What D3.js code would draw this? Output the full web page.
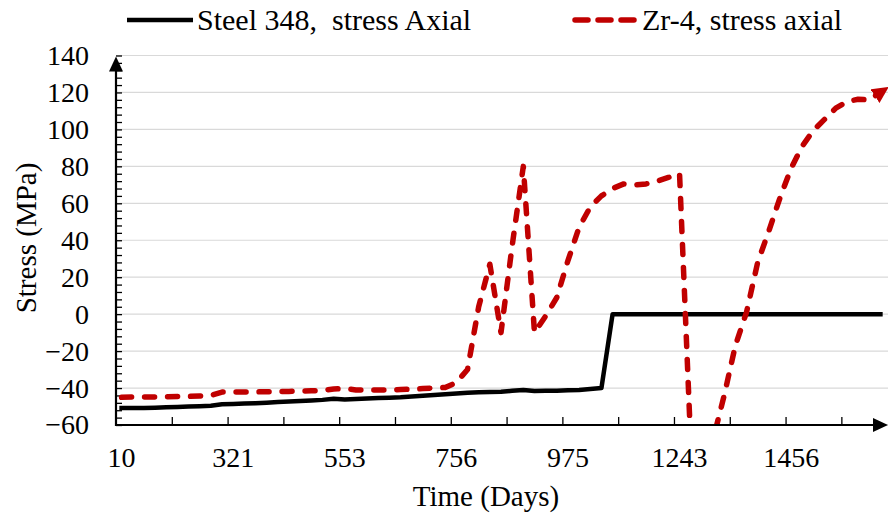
<!DOCTYPE html>
<html>
<head>
<meta charset="utf-8">
<script src="https://cdn.jsdelivr.net/npm/d3@7"></script>
<style>
  html, body { margin: 0; padding: 0; background: #fff; }
  svg { display: block; }
  text { font-family: "Liberation Serif", "Times New Roman", serif; fill: #000; }
</style>
</head>
<body>
<svg id="chart" width="888" height="515"></svg>
<script>
// ---- data ----
const seriesNames = ["Steel 348,  stress Axial", "Zr-4, stress axial"];
const steel348 = [
  -50.8, -50.8, -50.8, -50.6, -50.4, -50.2, -50, -49.8, -49.6, -48.8,
  -48.6, -48.4, -48.2, -47.9, -47.6, -47.3, -47, -46.7, -46.4, -45.8,
  -46.2, -45.9, -45.6, -45.4, -45.2, -45, -44.6, -44.2, -43.8, -43.4,
  -43, -42.6, -42.3, -42.1, -42, -41.5, -41, -41.6, -41.5, -41.4,
  -41.2, -41, -40.5, -40, 0, 0, 0, 0, 0, 0,
  0, 0, 0, 0, 0, 0, 0, 0, 0, 0,
  0, 0, 0, 0, 0, 0, 0, 0, 0
];
const zr4 = [
  -45, -44.8, -44.8, -44.8, -44.7, -44.6, -44.5, -44.3, -44, -42.2,
  -42.2, -42.1, -42.1, -42, -41.9, -41.8, -41.7, -41.5, -41.3, -40.5,
  -40.3, -41, -41.1, -41.1, -41, -40.8, -40.6, -40.3, -39.9, -39.7,
  -37, -30, 4, 27, -10, 37, 80, -10, -1, 9,
  29, 47, 58, 64, 68, 70.5, 70, 70.5, 72, 74,
  76, -70, -59, -68, -44, -17, 1, 28, 45, 63,
  79, 91, 99.5, 105.5, 111.5, 115, 116.3, 116, 120
];
const categories = d3.range(zr4.length);          // category slots (days, unevenly spaced)
const timeLabels = ["10", "321", "553", "756", "975", "1243", "1456"]; // every 10th category
const labelEvery = 10;
const tickEvery = 5;
const yMin = -60, yMax = 140, yMajor = 20, yMinor = 4;

// ---- layout ----
const svg = d3.select("#chart");
const L = 116, R = 886, T = 55.5, B = 425;
const FONT = 28, TITLE = 29, LEG = 30;

const x = d3.scaleBand().domain(categories).range([L, R]).paddingInner(0).paddingOuter(0);
const xEdge = d3.scaleLinear().domain([0, categories.length]).range([L, R]);
const y = d3.scaleLinear().domain([yMin, yMax]).range([B, T]);
const cx = i => x(i) + x.bandwidth() / 2;

// defs
const defs = svg.append("defs");
defs.append("clipPath").attr("id", "plotclip")
  .append("rect").attr("x", L).attr("y", T - 10).attr("width", 888 - L).attr("height", B - T + 10);
defs.append("marker").attr("id", "redarrow")
  .attr("viewBox", "0 0 10 10").attr("refX", 4).attr("refY", 5)
  .attr("markerWidth", 3).attr("markerHeight", 3)
  .attr("markerUnits", "strokeWidth").attr("orient", "auto")
  .append("path").attr("d", "M0,0 L10,5 L0,10 Z").attr("fill", "#c00000");

// gridlines
const yMajorTicks = d3.range(yMin, yMax + 1, yMajor);
svg.append("g").selectAll("line").data(yMajorTicks).join("line")
  .attr("x1", L).attr("x2", 888)
  .attr("y1", d => y(d)).attr("y2", d => y(d))
  .attr("stroke", "#d9d9d9").attr("stroke-width", 1.2);

// y minor/major tick marks (inside)
const yTickG = svg.append("g").attr("transform", `translate(${L},0)`)
  .call(d3.axisRight(y).tickValues(d3.range(yMin, yMax + 0.1, yMinor)).tickSize(6).tickFormat(""));
yTickG.select(".domain").remove();
yTickG.selectAll(".tick line").attr("stroke", "#000").attr("stroke-width", 1.3);

// y labels
const yLab = svg.append("g").attr("transform", `translate(${L},0)`)
  .call(d3.axisLeft(y).tickValues(yMajorTicks).tickSize(0).tickPadding(27));
yLab.select(".domain").remove();
yLab.selectAll("text").style("font-size", FONT + "px")
  .style("font-family", "'Liberation Serif','Times New Roman',serif");

// x tick marks (inside, at category boundaries)
const xTickG = svg.append("g").attr("transform", `translate(0,${B})`)
  .call(d3.axisTop(xEdge).tickValues(d3.range(tickEvery, categories.length, tickEvery)).tickSize(8).tickFormat(""));
xTickG.select(".domain").remove();
xTickG.selectAll(".tick line").attr("stroke", "#000").attr("stroke-width", 1.3);

// x labels (category centres)
const xLab = svg.append("g").attr("transform", `translate(0,${B})`)
  .call(d3.axisBottom(x).tickValues(categories.filter(i => i % labelEvery === 0))
    .tickSize(0).tickPadding(22).tickFormat(i => timeLabels[i / labelEvery]));
xLab.select(".domain").remove();
xLab.selectAll("text").style("font-size", FONT + "px")
  .style("font-family", "'Liberation Serif','Times New Roman',serif");

// series
const line = d3.line().x((d, i) => cx(i)).y(d => y(d));
const plot = svg.append("g").attr("clip-path", "url(#plotclip)");
plot.append("path").datum(steel348)
  .attr("d", line).attr("fill", "none").attr("stroke", "#000")
  .attr("stroke-width", 4.5).attr("stroke-linejoin", "round").attr("stroke-linecap", "square");
svg.append("path").datum(zr4)
  .attr("clip-path", "url(#plotclip)")
  .attr("d", line).attr("fill", "none").attr("stroke", "#c00000")
  .attr("stroke-width", 5.5).attr("stroke-dasharray", "10 13")
  .attr("stroke-linecap", "round").attr("stroke-linejoin", "round")
  .attr("marker-end", "url(#redarrow)");

// axes lines with arrows
svg.append("line").attr("x1", L).attr("x2", L).attr("y1", B + 1).attr("y2", T + 14)
  .attr("stroke", "#000").attr("stroke-width", 2.2);
svg.append("path").attr("d", `M${L},${T + 1} L${L - 7},${T + 16} L${L + 7},${T + 16} Z`).attr("fill", "#000");
svg.append("line").attr("x1", L - 1).attr("x2", 876).attr("y1", B).attr("y2", B)
  .attr("stroke", "#000").attr("stroke-width", 2.2);
svg.append("path").attr("d", `M888,${B} L873,${B - 7} L873,${B + 7} Z`).attr("fill", "#000");

// axis titles
svg.append("text").attr("x", 486).attr("y", 506).attr("text-anchor", "middle")
  .style("font-size", TITLE + "px").text("Time (Days)");
svg.append("text").attr("transform", `translate(36,238) rotate(-90)`).attr("text-anchor", "middle")
  .style("font-size", TITLE + "px").text("Stress (MPa)");

// legend
const lg = svg.append("g");
lg.append("line").attr("x1", 127).attr("x2", 193).attr("y1", 20).attr("y2", 20)
  .attr("stroke", "#000").attr("stroke-width", 4.5);
lg.append("text").attr("x", 197).attr("y", 30).style("font-size", LEG + "px")
  .style("white-space", "pre").attr("xml:space", "preserve").text(seriesNames[0]);
lg.append("line").attr("x1", 575).attr("x2", 636).attr("y1", 20).attr("y2", 20)
  .attr("stroke", "#c00000").attr("stroke-width", 5.5)
  .attr("stroke-dasharray", "13 10").attr("stroke-linecap", "round");
lg.append("text").attr("x", 642).attr("y", 30).style("font-size", LEG + "px").text(seriesNames[1]);
</script>
</body>
</html>
